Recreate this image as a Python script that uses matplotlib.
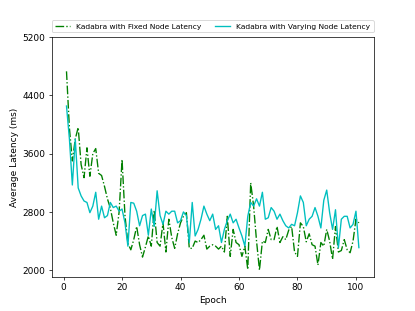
import matplotlib
matplotlib.use("Agg")
import matplotlib.pyplot as plt
import numpy as np

epochs = list(range(1, 102))

fixed_latency = [
    4730, 3950, 3500, 3800, 3960, 3450, 3270, 3680, 3290, 3600,
    3670, 3330, 3300, 3150, 2980, 2850, 2650, 2480, 2800, 3520,
    2750, 2370, 2280, 2420, 2600, 2350, 2180, 2320, 2470, 2330,
    2820, 2380, 2330, 2650, 2250, 2700, 2450, 2300, 2500, 2650,
    2740, 2790, 2300, 2300, 2400, 2380, 2420, 2480, 2290, 2330,
    2350, 2330, 2290, 2330, 2250, 2740, 2190, 2560, 2380, 2350,
    2190, 2330, 2010, 3200, 2880, 2400, 2000, 2400, 2380, 2560,
    2420, 2420, 2600, 2380, 2460, 2420, 2550, 2600, 2250, 2190,
    2650, 2600, 2390, 2500, 2350, 2330, 2070, 2380, 2330, 2560,
    2400, 2150, 2600, 2250, 2270, 2420, 2280, 2240, 2400, 2700,
    2650,
]

varying_latency = [
    4254, 3800, 3170, 3800, 3130, 3020, 2950, 2930, 2790, 2880,
    3070, 2700, 2880, 2720, 2750, 2930, 2860, 2880, 2810, 2840,
    2650, 2330, 2930, 2920, 2810, 2610, 2750, 2770, 2480, 2840,
    2600, 3090, 2750, 2630, 2810, 2770, 2810, 2810, 2650, 2680,
    2800, 2750, 2380, 2930, 2470, 2560, 2700, 2880, 2770, 2680,
    2770, 2560, 2610, 2380, 2560, 2680, 2770, 2650, 2700, 2580,
    2470, 2330, 2740, 2930, 2880, 2980, 2880, 3070, 2700, 2720,
    2860, 2810, 2700, 2770, 2680, 2610, 2580, 2630, 2610, 2790,
    3020, 2930, 2610, 2700, 2740, 2860, 2740, 2580, 2960, 3100,
    2790, 2560, 2830, 2310, 2700, 2740, 2740, 2580, 2630, 2810,
    2310,
]

series_labels = ["Kadabra with Fixed Node Latency", "Kadabra with Varying Node Latency"]
y_ticks = [2000, 2800, 3600, 4400, 5200]
x_ticks = [0, 20, 40, 60, 80, 100]

fig = plt.figure(figsize=(6.4, 4.8), dpi=415 / 6.4)
ax = fig.add_subplot(111)
ax.plot(epochs, fixed_latency, 'g-.', label=series_labels[0])
ax.plot(epochs, varying_latency, 'c-', label=series_labels[1])
ax.set_yticks(y_ticks)
ax.set_xticks(x_ticks)
ax.set_ylim(1910, 5200)
ax.set_xlabel("Epoch")
ax.set_ylabel("Average Latency (ms)")
ax.legend(bbox_to_anchor=(0., 1.02, 1., .102), loc='lower left', ncol=2,
          mode="expand", borderaxespad=0., fontsize='small')
fig.savefig("out.png", dpi=415 / 6.4)
